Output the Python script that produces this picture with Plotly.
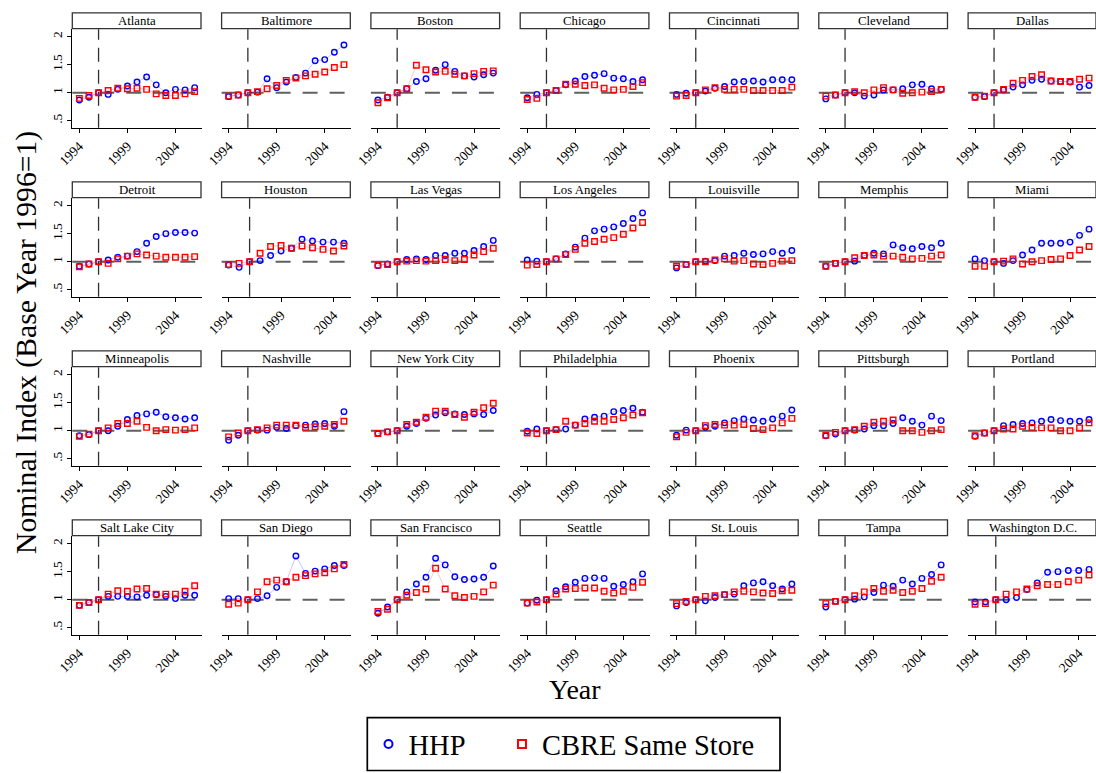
import plotly.graph_objects as go

W, H = 1096, 773

years_full = [1994, 1995, 1996, 1997, 1998, 1999, 2000, 2001, 2002, 2003, 2004, 2005, 2006]
years_short = [1994, 1995, 1996, 1997, 1998, 1999, 2000, 2001, 2002, 2003, 2004, 2005]
x_tick_vals = [1994, 1999, 2004]
x_tick_text = ["1994", "1999", "2004"]
y_tick_vals = [0.5, 1, 1.5, 2]
y_tick_text = [".5", "1", "1.5", "2"]
base_year = 1996

cities = ["Atlanta", "Baltimore", "Boston", "Chicago", "Cincinnati", "Cleveland", "Dallas",
          "Detroit", "Houston", "Las Vegas", "Los Angeles", "Louisville", "Memphis", "Miami",
          "Minneapolis", "Nashville", "New York City", "Philadelphia", "Phoenix", "Pittsburgh", "Portland",
          "Salt Lake City", "San Diego", "San Francisco", "Seattle", "St. Louis", "Tampa", "Washington D.C."]

atlanta_hhp = [0.87, 0.92, 1.0, 0.97, 1.06, 1.12, 1.19, 1.28, 1.14, 1.00, 1.06, 1.05, 1.09]
atlanta_cbre = [0.90, 0.95, 1.0, 1.04, 1.08, 1.07, 1.08, 1.06, 0.98, 0.95, 0.95, 0.98, 1.02]
baltimore_hhp = [0.93, 0.96, 1.0, 1.01, 1.25, 1.09, 1.19, 1.27, 1.35, 1.57, 1.59, 1.72, 1.85]
baltimore_cbre = [0.94, 0.96, 1.0, 1.02, 1.07, 1.13, 1.22, 1.26, 1.30, 1.33, 1.37, 1.45, 1.50]
boston_hhp = [0.87, 0.92, 1.0, 1.07, 1.20, 1.25, 1.40, 1.50, 1.38, 1.30, 1.28, 1.32, 1.35]
boston_cbre = [0.82, 0.91, 1.0, 1.07, 1.49, 1.41, 1.37, 1.38, 1.33, 1.30, 1.34, 1.38, 1.39]
chicago_hhp = [0.91, 0.97, 1.0, 1.04, 1.14, 1.21, 1.29, 1.31, 1.34, 1.26, 1.25, 1.20, 1.23]
chicago_cbre = [0.88, 0.90, 1.0, 1.04, 1.15, 1.15, 1.13, 1.14, 1.08, 1.05, 1.06, 1.11, 1.18]
cincinnati_hhp = [0.97, 0.99, 1.0, 1.03, 1.08, 1.11, 1.19, 1.20, 1.21, 1.19, 1.23, 1.23, 1.23]
cincinnati_cbre = [0.94, 0.95, 1.0, 1.05, 1.09, 1.06, 1.06, 1.06, 1.04, 1.04, 1.04, 1.04, 1.10]
cleveland_hhp = [0.89, 0.96, 1.0, 1.00, 0.94, 0.96, 1.05, 1.05, 1.07, 1.14, 1.15, 1.07, 1.06]
cleveland_cbre = [0.94, 0.96, 1.0, 1.02, 1.00, 1.05, 1.09, 1.05, 0.99, 1.00, 1.01, 1.02, 1.06]
dallas_hhp = [0.92, 0.93, 1.0, 1.05, 1.10, 1.14, 1.22, 1.24, 1.21, 1.20, 1.19, 1.10, 1.13]
dallas_cbre = [0.92, 0.94, 1.0, 1.06, 1.17, 1.22, 1.29, 1.32, 1.21, 1.20, 1.20, 1.24, 1.26]
detroit_hhp = [0.92, 0.96, 1.0, 1.03, 1.08, 1.10, 1.18, 1.33, 1.45, 1.50, 1.52, 1.52, 1.51]
detroit_cbre = [0.91, 0.96, 1.0, 0.97, 1.05, 1.10, 1.14, 1.12, 1.10, 1.08, 1.08, 1.08, 1.09]
houston_hhp = [0.94, 0.90, 1.0, 1.02, 1.11, 1.19, 1.24, 1.40, 1.37, 1.35, 1.35, 1.33]
houston_cbre = [0.95, 0.97, 1.0, 1.15, 1.27, 1.29, 1.24, 1.28, 1.25, 1.22, 1.19, 1.28]
lasvegas_hhp = [0.93, 0.96, 1.0, 1.04, 1.05, 1.04, 1.11, 1.11, 1.15, 1.15, 1.20, 1.27, 1.38]
lasvegas_cbre = [0.94, 0.95, 1.0, 1.01, 1.02, 1.01, 1.02, 1.04, 1.02, 1.04, 1.12, 1.18, 1.24]
losangeles_hhp = [1.03, 1.01, 1.0, 1.05, 1.14, 1.26, 1.42, 1.55, 1.58, 1.62, 1.68, 1.77, 1.87]
losangeles_cbre = [0.94, 0.95, 1.0, 1.05, 1.13, 1.22, 1.33, 1.36, 1.40, 1.43, 1.49, 1.60, 1.70]
louisville_hhp = [0.89, 0.95, 1.0, 1.01, 1.02, 1.10, 1.11, 1.15, 1.13, 1.14, 1.18, 1.15, 1.20]
louisville_cbre = [0.92, 0.95, 1.0, 1.00, 1.03, 1.05, 1.01, 1.02, 0.96, 0.95, 0.97, 1.01, 1.02]
memphis_hhp = [0.92, 0.97, 1.0, 1.01, 1.11, 1.15, 1.14, 1.30, 1.25, 1.23, 1.27, 1.25, 1.33]
memphis_cbre = [0.92, 0.97, 1.0, 1.07, 1.11, 1.12, 1.10, 1.10, 1.08, 1.05, 1.06, 1.10, 1.12]
miami_hhp = [1.05, 1.02, 1.0, 0.97, 1.02, 1.12, 1.21, 1.33, 1.33, 1.33, 1.35, 1.47, 1.58]
miami_cbre = [0.92, 0.92, 1.0, 1.01, 1.05, 0.96, 1.00, 1.02, 1.04, 1.05, 1.11, 1.21, 1.27]
minneapolis_hhp = [0.91, 0.93, 1.0, 1.00, 1.08, 1.20, 1.27, 1.30, 1.33, 1.25, 1.23, 1.21, 1.23]
minneapolis_cbre = [0.90, 0.94, 1.0, 1.05, 1.13, 1.13, 1.17, 1.06, 1.00, 1.02, 1.01, 1.02, 1.05]
nashville_hhp = [0.83, 0.92, 1.0, 1.01, 1.01, 1.06, 1.04, 1.09, 1.10, 1.12, 1.13, 1.08, 1.34]
nashville_cbre = [0.89, 0.96, 1.0, 1.02, 1.05, 1.10, 1.10, 1.10, 1.06, 1.07, 1.08, 1.11, 1.17]
newyork_hhp = [0.95, 0.98, 1.0, 1.08, 1.13, 1.22, 1.28, 1.32, 1.30, 1.29, 1.30, 1.29, 1.36]
newyork_cbre = [0.95, 0.98, 1.0, 1.11, 1.15, 1.24, 1.35, 1.35, 1.29, 1.24, 1.33, 1.41, 1.49]
philadelphia_hhp = [0.99, 1.03, 1.0, 1.02, 1.03, 1.10, 1.21, 1.24, 1.26, 1.34, 1.36, 1.40, 1.33]
philadelphia_cbre = [0.96, 0.95, 1.0, 1.02, 1.17, 1.10, 1.13, 1.17, 1.17, 1.20, 1.23, 1.28, 1.32]
phoenix_hhp = [0.92, 1.01, 1.0, 1.06, 1.08, 1.14, 1.18, 1.21, 1.19, 1.17, 1.21, 1.26, 1.37]
phoenix_cbre = [0.89, 0.97, 1.0, 1.09, 1.11, 1.10, 1.10, 1.11, 1.04, 1.02, 1.05, 1.14, 1.22]
pittsburgh_hhp = [0.91, 0.94, 1.0, 1.01, 1.03, 1.09, 1.09, 1.13, 1.23, 1.17, 1.10, 1.26, 1.18]
pittsburgh_cbre = [0.92, 0.97, 1.0, 1.02, 1.08, 1.15, 1.17, 1.19, 1.00, 1.00, 0.97, 1.00, 1.02]
portland_hhp = [0.90, 0.96, 1.0, 1.09, 1.11, 1.13, 1.14, 1.17, 1.20, 1.18, 1.17, 1.17, 1.20]
portland_cbre = [0.91, 0.96, 1.0, 1.03, 1.03, 1.08, 1.06, 1.05, 1.05, 1.00, 1.00, 1.05, 1.14]
saltlake_hhp = [0.90, 0.95, 1.0, 1.06, 1.06, 1.06, 1.05, 1.08, 1.09, 1.06, 1.02, 1.08, 1.08]
saltlake_cbre = [0.90, 0.95, 1.0, 1.10, 1.16, 1.15, 1.19, 1.20, 1.10, 1.10, 1.10, 1.15, 1.25]
sandiego_hhp = [1.02, 1.02, 1.0, 1.02, 1.07, 1.22, 1.32, 1.78, 1.47, 1.51, 1.55, 1.61, 1.61]
sandiego_cbre = [0.92, 0.94, 1.0, 1.14, 1.32, 1.35, 1.32, 1.40, 1.43, 1.46, 1.48, 1.55, 1.63]
sanfrancisco_hhp = [0.76, 0.87, 1.0, 1.14, 1.28, 1.40, 1.74, 1.62, 1.41, 1.36, 1.37, 1.40, 1.60]
sanfrancisco_cbre = [0.79, 0.83, 1.0, 1.08, 1.13, 1.19, 1.56, 1.19, 1.07, 1.04, 1.06, 1.14, 1.26]
seattle_hhp = [0.94, 0.99, 1.0, 1.16, 1.23, 1.31, 1.38, 1.39, 1.38, 1.24, 1.27, 1.32, 1.46]
seattle_cbre = [0.94, 0.96, 1.0, 1.10, 1.19, 1.20, 1.21, 1.21, 1.15, 1.12, 1.15, 1.22, 1.31]
stlouis_hhp = [0.89, 0.95, 1.0, 0.98, 1.04, 1.09, 1.10, 1.25, 1.30, 1.32, 1.25, 1.19, 1.28]
stlouis_cbre = [0.93, 0.97, 1.0, 1.06, 1.07, 1.09, 1.14, 1.15, 1.14, 1.12, 1.11, 1.16, 1.17]
tampa_hhp = [0.87, 0.97, 1.0, 1.01, 1.05, 1.13, 1.26, 1.24, 1.35, 1.28, 1.38, 1.45, 1.62]
tampa_cbre = [0.93, 0.97, 1.0, 1.07, 1.14, 1.20, 1.15, 1.17, 1.13, 1.15, 1.20, 1.33, 1.40]
washington_hhp = [0.96, 0.96, 1.0, 1.00, 1.04, 1.18, 1.30, 1.49, 1.50, 1.52, 1.52, 1.54]
washington_cbre = [0.92, 0.93, 1.0, 1.10, 1.14, 1.19, 1.25, 1.27, 1.27, 1.32, 1.35, 1.44]

hhp_series = [atlanta_hhp, baltimore_hhp, boston_hhp, chicago_hhp, cincinnati_hhp, cleveland_hhp, dallas_hhp,
              detroit_hhp, houston_hhp, lasvegas_hhp, losangeles_hhp, louisville_hhp, memphis_hhp, miami_hhp,
              minneapolis_hhp, nashville_hhp, newyork_hhp, philadelphia_hhp, phoenix_hhp, pittsburgh_hhp, portland_hhp,
              saltlake_hhp, sandiego_hhp, sanfrancisco_hhp, seattle_hhp, stlouis_hhp, tampa_hhp, washington_hhp]
cbre_series = [atlanta_cbre, baltimore_cbre, boston_cbre, chicago_cbre, cincinnati_cbre, cleveland_cbre, dallas_cbre,
               detroit_cbre, houston_cbre, lasvegas_cbre, losangeles_cbre, louisville_cbre, memphis_cbre, miami_cbre,
               minneapolis_cbre, nashville_cbre, newyork_cbre, philadelphia_cbre, phoenix_cbre, pittsburgh_cbre, portland_cbre,
               saltlake_cbre, sandiego_cbre, sanfrancisco_cbre, seattle_cbre, stlouis_cbre, tampa_cbre, washington_cbre]

FONT = "Liberation Serif"
BLUE = "#0000ff"
RED = "#ff0000"

# layout geometry (pixels)
col_left0, col_pitch, plot_w = 72.3, 149.3, 129.4
row_top0, row_pitch, plot_h = 29.3, 169.0, 98.5
strip_h = 16.5


def px_x(v):
    return min(max(v / W, 0.0), 1.0)


def px_y(v):
    return min(max(1 - v / H, 0.0), 1.0)


fig = go.Figure()
shapes = []
annotations = []
layout_axes = {}

for i, city in enumerate(cities):
    r, c = divmod(i, 7)
    n = i + 1
    xa = "x" if n == 1 else f"x{n}"
    ya = "y" if n == 1 else f"y{n}"
    xkey = "xaxis" if n == 1 else f"xaxis{n}"
    ykey = "yaxis" if n == 1 else f"yaxis{n}"
    hv = hhp_series[i]
    cv = cbre_series[i]
    yrs = years_full if len(hv) == 13 else years_short
    span = yrs[-1] - yrs[0]
    pad = 0.061 * span
    x0 = col_left0 + c * col_pitch
    x1 = x0 + plot_w
    top = row_top0 + r * row_pitch
    bot = top + plot_h

    fig.add_trace(go.Scatter(x=yrs, y=hv, xaxis=xa, yaxis=ya, mode="lines",
                             line=dict(color="rgba(0,0,255,0.22)", width=1), showlegend=False, hoverinfo="skip"))
    fig.add_trace(go.Scatter(x=yrs, y=cv, xaxis=xa, yaxis=ya, mode="lines",
                             line=dict(color="rgba(255,0,0,0.22)", width=1), showlegend=False, hoverinfo="skip"))
    fig.add_trace(go.Scatter(x=yrs, y=hv, xaxis=xa, yaxis=ya, mode="markers", name="HHP",
                             marker=dict(symbol="circle-open", size=5.5, color=BLUE, line=dict(width=1.4, color=BLUE)),
                             showlegend=False))
    fig.add_trace(go.Scatter(x=yrs, y=cv, xaxis=xa, yaxis=ya, mode="markers", name="CBRE Same Store",
                             marker=dict(symbol="square-open", size=5.5, color=RED, line=dict(width=1.4, color=RED)),
                             showlegend=False))

    layout_axes[xkey] = dict(
        domain=[px_x(x0), px_x(x1)], anchor=ya, range=[yrs[0] - pad, yrs[-1] + pad],
        tickvals=x_tick_vals, ticktext=x_tick_text, tickangle=-45, automargin=False,
        showline=True, linecolor="black", linewidth=1.3, ticks="outside", ticklen=4, tickcolor="black",
        showgrid=False, zeroline=False, tickfont=dict(family=FONT, size=13.5, color="black"),
    )
    first_col = (c == 0)
    layout_axes[ykey] = dict(
        domain=[px_y(bot), px_y(top)], anchor=xa, range=[0.375, 2.13],
        tickvals=y_tick_vals, ticktext=y_tick_text, tickangle=-90, automargin=False,
        showline=first_col, linecolor="black", linewidth=1.3,
        ticks="outside" if first_col else "", ticklen=4, tickcolor="black",
        showticklabels=first_col, showgrid=False, zeroline=False,
        tickfont=dict(family=FONT, size=13.5, color="black"),
    )

    shapes.append(dict(type="line", xref=f"{xa} domain", yref=ya, x0=0, x1=1, y0=1, y1=1,
                       line=dict(color="#606060", width=2, dash="15px,12px"), layer="below"))
    shapes.append(dict(type="line", xref=xa, yref=f"{ya} domain", x0=base_year, x1=base_year, y0=0, y1=1,
                       line=dict(color="#303030", width=1.3, dash="14px,8px"), layer="below"))
    shapes.append(dict(type="rect", xref="paper", yref="paper",
                       x0=px_x(x0), x1=px_x(x1 - 0.7), y0=px_y(top - 0.6), y1=px_y(top - strip_h),
                       line=dict(color="#333333", width=1.3), fillcolor="white"))
    annotations.append(dict(text=city, xref="paper", yref="paper", x=(x0 + x1) / 2 / W,
                            y=px_y(top - strip_h / 2 - 0.3), showarrow=False,
                            font=dict(family=FONT, size=12.8, color="black"), xanchor="center", yanchor="middle"))

# legend entries (two legends inside one drawn box)
fig.add_trace(go.Scatter(x=[None], y=[None], mode="markers", name="HHP", legend="legend",
                         marker=dict(symbol="circle-open", size=8, color=BLUE, line=dict(width=2, color=BLUE))))
fig.add_trace(go.Scatter(x=[None], y=[None], mode="markers", name="CBRE Same Store", legend="legend2",
                         marker=dict(symbol="square-open", size=8, color=RED, line=dict(width=2, color=RED))))
shapes.append(dict(type="rect", xref="paper", yref="paper",
                   x0=px_x(367.3), x1=px_x(780), y0=px_y(770.5), y1=px_y(717.7),
                   line=dict(color="black", width=1.7), fillcolor="rgba(0,0,0,0)"))

annotations.append(dict(text="Nominal Index (Base Year 1996=1)", xref="paper", yref="paper",
                        x=26 / W, y=px_y(343), textangle=-90, showarrow=False,
                        font=dict(family=FONT, size=29.7, color="black"), xanchor="center", yanchor="middle"))
annotations.append(dict(text="Year", xref="paper", yref="paper", x=575 / W, y=px_y(689),
                        showarrow=False, font=dict(family=FONT, size=28, color="black"),
                        xanchor="center", yanchor="middle"))

legend_common = dict(orientation="h", yanchor="middle", y=px_y(744.5), xanchor="left",
                     bgcolor="rgba(0,0,0,0)", borderwidth=0,
                     font=dict(family=FONT, size=28.5, color="black"), itemsizing="trace")

fig.update_layout(
    width=W, height=H, margin=dict(l=0, r=0, t=0, b=0, autoexpand=False),
    paper_bgcolor="white", plot_bgcolor="white",
    shapes=shapes, annotations=annotations,
    showlegend=True,
    legend=dict(x=px_x(368.5), **legend_common),
    legend2=dict(x=px_x(502), **legend_common),
    **layout_axes,
)

fig.write_html("out.html", config={"displayModeBar": False},
               post_script="document.body.style.margin='0';document.body.style.overflow='hidden';")
